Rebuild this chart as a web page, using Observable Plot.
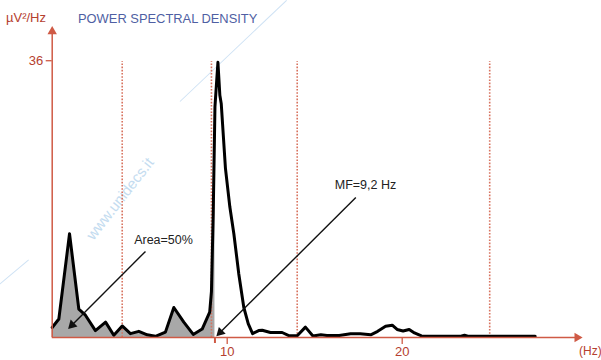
<!DOCTYPE html>
<html><head><meta charset="utf-8">
<script src="https://cdn.jsdelivr.net/npm/d3@7"></script>
<script src="https://cdn.jsdelivr.net/npm/@observablehq/plot@0.6"></script>
<style>
body{margin:0;background:#fff;}
#wrap{position:relative;width:601px;height:360px;overflow:hidden;font-family:"Liberation Sans",Arial,sans-serif;background:#fff;}
#wrap svg{position:absolute;left:0;top:0;}
.lbl{position:absolute;white-space:nowrap;}
#unit{left:6px;top:10px;font-size:13px;color:#b5402f;}
#title{left:78px;top:11px;font-size:12.9px;color:#4f5fa3;}
#hz{left:579px;top:344px;font-size:12px;color:#b5402f;}
#wm{left:70px;top:190px;font-size:15px;color:#c4dcf0;transform:rotate(-52deg);transform-origin:center;}
.wl{position:absolute;height:0;border-top:1px solid #cfe2f4;transform-origin:left center;}
</style></head><body>
<div id="wrap">
<div class="wl" style="left:180px;top:101px;width:147px;transform:rotate(-43.5deg);"></div>
<div class="wl" style="left:-2px;top:285px;width:40px;transform:rotate(-40deg);"></div>
<div class="lbl" id="wm">www.unidecs.it</div>
</div>
<script>
// spectrum (Hz, µV²/Hz)
const freqHz = [0, 0.38, 0.99, 1.52, 1.9, 2.47, 3.05, 3.52, 4.0, 4.47, 4.95, 5.43, 5.9, 6.47, 6.95, 7.52, 8.06, 8.57, 9.0, 9.1, 9.2, 9.3, 9.47, 9.58, 9.66, 9.9, 10.15, 10.38, 10.66, 10.95, 11.2, 11.45, 11.8, 12.0, 12.47, 13.14, 13.52, 14.0, 14.47, 14.9, 15.35, 15.7, 16.4, 17.05, 17.6, 18.2, 18.6, 19.05, 19.43, 19.71, 20.05, 20.4, 20.7, 21.1, 23.3, 23.56, 23.8, 27.6];
const power  = [1.3, 2.4, 13.5, 3.7, 2.9, 0.9, 2.0, 0.3, 1.5, 0.5, 0.8, 0.35, 0.15, 0.7, 3.9, 2.0, 0.4, 1.1, 3.3, 6, 16, 30, 35.8, 31.5, 30.4, 22, 17, 13.5, 8.3, 3.9, 1.8, 0.5, 0.9, 0.95, 0.65, 0.65, 0.25, 0.22, 1.35, 0.2, 0.35, 0.25, 0.25, 0.5, 0.5, 0.35, 0.8, 1.45, 1.6, 1.05, 0.85, 1.05, 0.6, 0.2, 0.15, 0.3, 0.15, 0.15];
const bandEdges = [4, 9.1, 14, 25];
const bandTop = 35.9;
const medianFreq = 9.3;
const xTicks = [10, 20];
const yTicks = [36];
const xMax = 30;
const yMax = 39.8;
const annLabels = ["Area=50%", "MF=9,2 Hz"];
const annTextX = [6.36, 17.9];
const annTextY = [12.74, 19.77];
const arrowFromX = [5.33, 17.35];
const arrowFromY = [11.2, 18.2];
const arrowToX = [1.05, 9.52];
const arrowToY = [1.43, 0.48];

const data = freqHz.map((f, i) => ({f, p: power[i]}));
const ann = annLabels.map((t, i) => ({t, x: annTextX[i], y: annTextY[i], x1: arrowFromX[i], y1: arrowFromY[i], x2: arrowToX[i], y2: arrowToY[i]}));
const axisRed = "#cf5a45";
const textRed = "#b5402f";

const chart = Plot.plot({
  width: 601, height: 360,
  marginLeft: 51.7, marginRight: 24.3, marginTop: 31, marginBottom: 23,
  x: {type: "linear", domain: [0, xMax]},
  y: {type: "linear", domain: [0, yMax]},
  style: {fontFamily: "'Liberation Sans', Arial, sans-serif", fontSize: "13px", background: "transparent"},
  marks: [
    Plot.areaY(data.filter(d => d.f <= medianFreq), {x: "f", y: "p", fill: "#a8a8a8"}),
    Plot.ruleX(bandEdges, {y1: 0, y2: bandTop, stroke: "#d8735f", strokeWidth: 1.6, strokeDasharray: "1.6,1.6"}),
    Plot.line(data, {x: "f", y: "p", stroke: "#000", strokeWidth: 3, strokeLinejoin: "round"}),
    Plot.ruleY([0], {x1: 0, x2: xMax, stroke: axisRed, strokeWidth: 1.5}),
    Plot.ruleX([0], {y1: 0, y2: yMax, stroke: axisRed, strokeWidth: 1.5}),
    Plot.dot([0], {x: xMax, y: 0, symbol: "triangle", r: 3.5, rotate: 90, fill: axisRed, stroke: "none"}),
    Plot.dot([0], {x: 0, y: yMax, symbol: "triangle", r: 3.5, fill: axisRed, stroke: "none"}),
    Plot.ruleX([medianFreq], {y1: 0, y2: 0.75, dy: 6, stroke: axisRed, strokeWidth: 2}),
    Plot.axisX(xTicks, {tickSize: 7, tickPadding: 2, stroke: axisRed, fill: textRed, strokeWidth: 1.3, fontSize: 13}),
    Plot.axisY(yTicks, {tickSize: 6, tickPadding: 3, stroke: axisRed, fill: textRed, strokeWidth: 1.3, fontSize: 13}),
    Plot.link(ann, {x1: "x1", y1: "y1", x2: "x2", y2: "y2", stroke: "#111", strokeWidth: 1.4}),
    Plot.dot(ann, {x: "x2", y: "y2", symbol: "triangle", r: 3.6, rotate: 225, dx: 1.5, dy: -1.5, fill: "#111", stroke: "none"}),
    Plot.text(ann, {x: "x", y: "y", text: "t", fill: "#222", fontSize: 12.5})
  ]
});
const wrap = document.getElementById("wrap");
wrap.appendChild(chart);
for (const [id, txt] of [["unit", "µV²/Hz"], ["title", "POWER SPECTRAL DENSITY"], ["hz", "(Hz)"]]) {
  const d = document.createElement("div");
  d.className = "lbl"; d.id = id; d.textContent = txt;
  wrap.appendChild(d);
}
</script>
</body></html>
